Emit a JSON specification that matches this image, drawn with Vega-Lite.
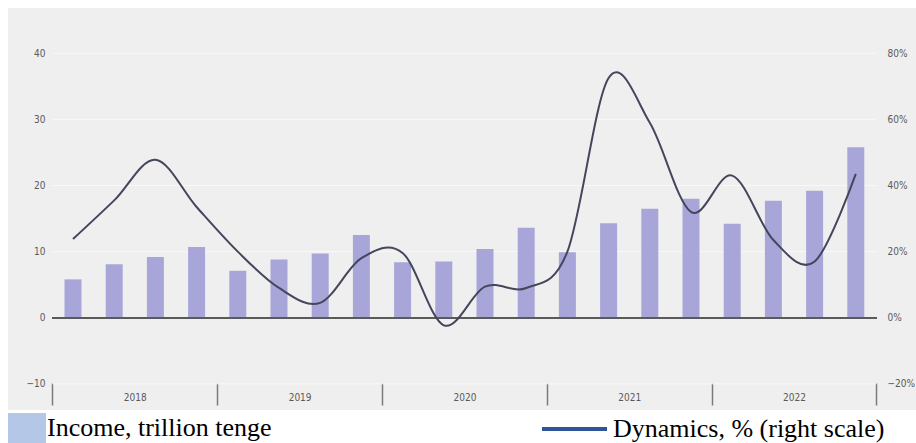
{
  "$schema": "https://vega.github.io/schema/vega-lite/v6.json",
  "width": 908,
  "height": 402,
  "autosize": {"type": "none"},
  "padding": {"left": 8, "top": 8, "right": 0, "bottom": 33},
  "background": "#ffffff",
  "view": {"fill": "#efefef", "stroke": null},
  "config": {
    "view": {"fill": "#efefef", "stroke": null},
    "axis": {
      "labelFont": "Liberation Sans Narrow, DejaVu Sans Condensed, Liberation Sans, sans-serif",
      "labelFontSize": 10,
      "labelColor": "#5a5a5a"
    },
    "legend": {
      "labelFont": "Liberation Serif",
      "labelFontSize": 26,
      "labelColor": "#000000",
      "labelLimit": 0
    }
  },
  "data": {
    "values": [
      {"quarter": "2018 Q1", "t": 2018.125, "income": 5.8, "dynamics": 23.8},
      {"quarter": "2018 Q2", "t": 2018.375, "income": 8.1, "dynamics": 35.5},
      {"quarter": "2018 Q3", "t": 2018.625, "income": 9.2, "dynamics": 47.8},
      {"quarter": "2018 Q4", "t": 2018.875, "income": 10.7, "dynamics": 33.5},
      {"quarter": "2019 Q1", "t": 2019.125, "income": 7.1, "dynamics": 20.0},
      {"quarter": "2019 Q2", "t": 2019.375, "income": 8.8, "dynamics": 9.0},
      {"quarter": "2019 Q3", "t": 2019.625, "income": 9.7, "dynamics": 4.5},
      {"quarter": "2019 Q4", "t": 2019.875, "income": 12.5, "dynamics": 18.0},
      {"quarter": "2020 Q1", "t": 2020.125, "income": 8.4, "dynamics": 19.6},
      {"quarter": "2020 Q2", "t": 2020.375, "income": 8.5, "dynamics": -2.3},
      {"quarter": "2020 Q3", "t": 2020.625, "income": 10.4, "dynamics": 9.4},
      {"quarter": "2020 Q4", "t": 2020.875, "income": 13.6, "dynamics": 9.0},
      {"quarter": "2021 Q1", "t": 2021.125, "income": 9.9, "dynamics": 20.0},
      {"quarter": "2021 Q2", "t": 2021.375, "income": 14.3, "dynamics": 72.5},
      {"quarter": "2021 Q3", "t": 2021.625, "income": 16.5, "dynamics": 59.0},
      {"quarter": "2021 Q4", "t": 2021.875, "income": 18.0, "dynamics": 32.0},
      {"quarter": "2022 Q1", "t": 2022.125, "income": 14.2, "dynamics": 43.0},
      {"quarter": "2022 Q2", "t": 2022.375, "income": 17.7, "dynamics": 23.5},
      {"quarter": "2022 Q3", "t": 2022.625, "income": 19.2, "dynamics": 17.0},
      {"quarter": "2022 Q4", "t": 2022.875, "income": 25.8, "dynamics": 43.5}
    ]
  },
  "layer": [
    {
      "layer": [
        {
          "data": {"values": [{"v": -10}, {"v": 10}, {"v": 20}, {"v": 30}, {"v": 40}]},
          "mark": {"type": "rule", "color": "#f8f8f8", "strokeWidth": 1},
          "encoding": {
            "y": {
              "field": "v",
              "type": "quantitative",
              "scale": {"domain": [-13.96, 46.85], "nice": false, "zero": false, "padding": 0},
              "axis": {
                "orient": "left",
                "values": [-10, 0, 10, 20, 30, 40],
                "offset": -39,
                "ticks": false,
                "domain": false,
                "grid": false,
                "labelPadding": 2,
                "title": null
              }
            },
            "x": {"datum": 2018, "type": "quantitative"},
            "x2": {"datum": 2023}
          }
        },
        {
          "mark": {"type": "bar", "orient": "vertical", "size": 17, "color": "#a8a6d9"},
          "encoding": {
            "x": {
              "field": "t",
              "type": "quantitative",
              "scale": {"domain": [2017.7306, 2023.2403], "nice": false, "zero": false, "padding": 0},
              "axis": {
                "orient": "bottom",
                "values": [2018, 2019, 2020, 2021, 2022, 2023],
                "offset": -27,
                "tickSize": 22,
                "tickColor": "#7a7a7a",
                "tickWidth": 1.5,
                "domain": false,
                "grid": false,
                "labelOffset": 82.4,
                "labelPadding": -8,
                "labelBaseline": "middle",
                "labelExpr": "datum.value < 2023 ? '' + datum.value : ''",
                "labelOverlap": false,
                "labelBound": false,
                "labelFlush": false,
                "title": null
              }
            },
            "y": {
              "field": "income",
              "type": "quantitative",
              "scale": {"domain": [-13.96, 46.85], "nice": false, "zero": false, "padding": 0}
            }
          }
        },
        {
          "mark": {"type": "rule", "color": "#5a5a5a", "strokeWidth": 1.5},
          "encoding": {
            "y": {"datum": 0, "type": "quantitative"},
            "x": {"datum": 2018, "type": "quantitative"},
            "x2": {"datum": 2023}
          }
        }
      ]
    },
    {
      "mark": {"type": "line", "interpolate": "cardinal", "tension": 0, "strokeWidth": 2, "color": "#44465c"},
      "encoding": {
        "x": {"field": "t", "type": "quantitative"},
        "y": {
          "field": "dynamics",
          "type": "quantitative",
          "scale": {"domain": [-27.92, 93.7], "nice": false, "zero": false, "padding": 0},
          "axis": {
            "orient": "right",
            "values": [-20, 0, 20, 40, 60, 80],
            "offset": -30,
            "ticks": false,
            "domain": false,
            "grid": false,
            "labelPadding": 1,
            "labelExpr": "format(datum.value, 'd') + '%'",
            "title": null
          }
        }
      }
    },
    {
      "data": {"values": []},
      "mark": {"type": "square", "filled": true, "opacity": 1},
      "encoding": {
        "fill": {
          "datum": "Income, trillion tenge",
          "scale": {"range": ["#b4c7e7"]},
          "legend": {
            "orient": "none",
            "legendX": 0,
            "legendY": 401,
            "title": null,
            "padding": 0,
            "symbolType": "M-1,-0.79H1V0.79H-1Z",
            "symbolSize": 1444,
            "symbolStrokeWidth": 0,
            "symbolOpacity": 1,
            "labelOffset": 1
          }
        }
      }
    },
    {
      "data": {"values": []},
      "mark": {"type": "line", "strokeWidth": 4},
      "encoding": {
        "stroke": {
          "datum": "Dynamics, % (right scale)",
          "scale": {"range": ["#2f5597"]},
          "legend": {
            "orient": "none",
            "legendX": 532,
            "legendY": 386.5,
            "title": null,
            "padding": 0,
            "symbolType": "stroke",
            "symbolSize": 4225,
            "symbolStrokeWidth": 4,
            "labelOffset": 4
          }
        }
      }
    }
  ],
  "resolve": {"scale": {"y": "independent"}}
}
